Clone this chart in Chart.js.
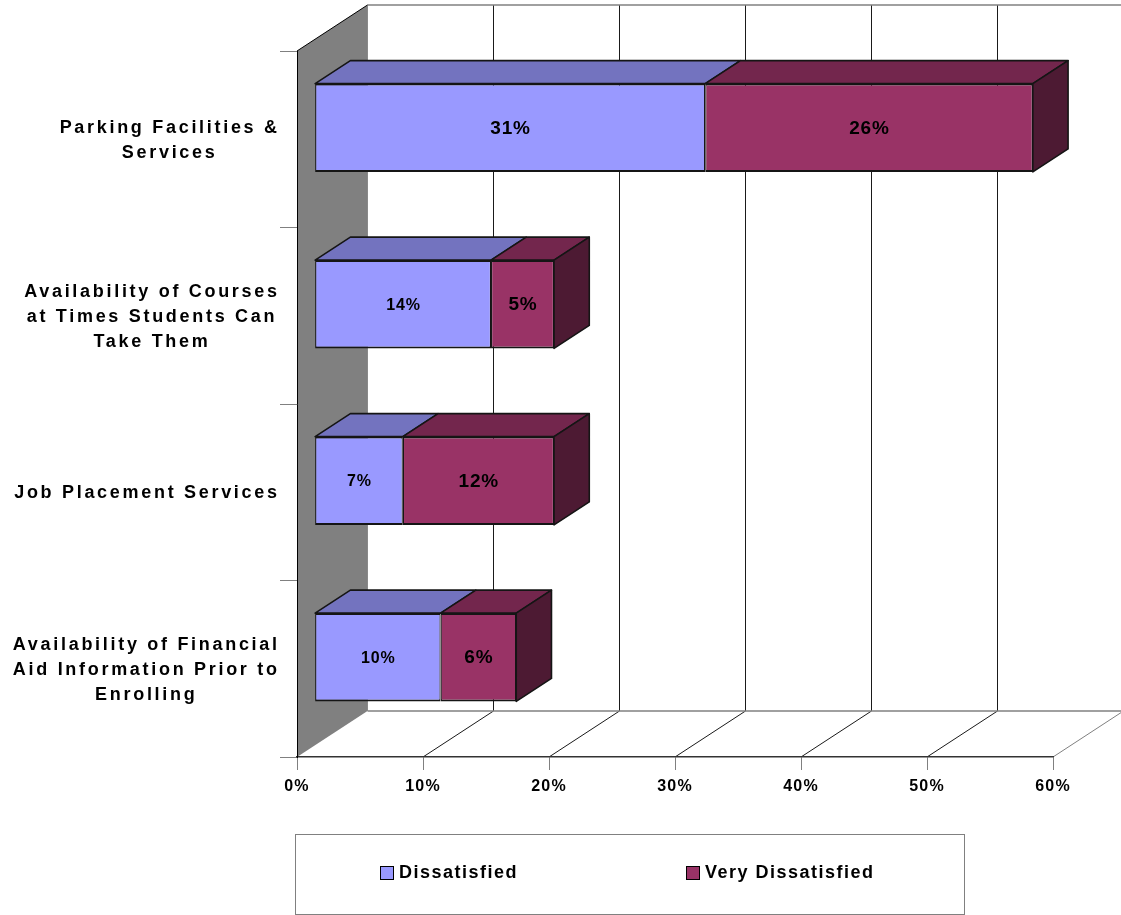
<!DOCTYPE html>
<html><head><meta charset="utf-8">
<script src="https://cdn.jsdelivr.net/npm/chart.js@4.4.1/dist/chart.umd.min.js"></script>
<style>html,body{margin:0;padding:0;background:#fff;overflow:hidden}canvas{display:block}</style>
</head><body>
<canvas id="c" width="1121" height="915"></canvas>
<script>
// ---- data ----
const categories = [
  ['Parking Facilities &', 'Services'],
  ['Availability of Courses', 'at Times Students Can', 'Take Them'],
  ['Job Placement Services'],
  ['Availability of Financial', 'Aid Information Prior to', 'Enrolling']
];
const seriesNames = ['Dissatisfied', 'Very Dissatisfied'];
const dissatisfied = [31, 14, 7, 10];
const veryDissatisfied = [26, 5, 12, 6];
const xTicks = [0, 10, 20, 30, 40, 50, 60];

// ---- style ----
const FONT = '"Liberation Sans", Arial, sans-serif';
const DEPTH = { x: 70.5, y: -46 };
const FRONT = { x: DEPTH.x * 0.25, y: DEPTH.y * 0.25 };
const BAR_DEPTH = { x: DEPTH.x * 0.5, y: DEPTH.y * 0.5 };
const seriesStyle = [
  { front: '#9999FF', top: '#7373BF', side: '#5C5C99' },
  { front: '#993366', top: '#73264D', side: '#4D1A33' }
];
const EDGE = '#151515';

function poly(ctx, pts, fill) {
  ctx.beginPath();
  ctx.moveTo(pts[0][0], pts[0][1]);
  for (let i = 1; i < pts.length; i++) ctx.lineTo(pts[i][0], pts[i][1]);
  ctx.closePath();
  ctx.fillStyle = fill;
  ctx.fill();
  ctx.lineWidth = 1.6;
  ctx.strokeStyle = EDGE;
  ctx.lineJoin = 'round';
  ctx.stroke();
}
function line(ctx, x1, y1, x2, y2, color, w) {
  ctx.beginPath();
  ctx.moveTo(x1, y1); ctx.lineTo(x2, y2);
  ctx.strokeStyle = color; ctx.lineWidth = w || 1;
  ctx.stroke();
}

const threeD = {
  id: 'threeD',
  beforeDraw(chart) {
    const ctx = chart.ctx, ca = chart.chartArea, xs = chart.scales.x;
    ctx.save();
    ctx.fillStyle = '#fff';
    ctx.fillRect(0, 0, chart.width, chart.height);
    const L = ca.left, T = ca.top, B = ca.bottom;
    // left side wall
    ctx.beginPath();
    ctx.moveTo(L, T); ctx.lineTo(L + DEPTH.x, T + DEPTH.y);
    ctx.lineTo(L + DEPTH.x, B + DEPTH.y); ctx.lineTo(L, B); ctx.closePath();
    ctx.fillStyle = '#808080'; ctx.fill();
    // back wall gridlines
    xTicks.forEach(v => {
      if (v === xTicks[0]) return;
      const px = xs.getPixelForValue(v) + DEPTH.x;
      line(ctx, px, T + DEPTH.y, px, B + DEPTH.y, '#1a1a1a', 1);
    });
    // floor diagonals
    xTicks.forEach(v => {
      if (v === xTicks[0]) return;
      const px = xs.getPixelForValue(v);
      line(ctx, px, B, px + DEPTH.x, B + DEPTH.y, v === xTicks[xTicks.length - 1] ? '#808080' : '#1a1a1a', 1);
    });
    // back floor edge
    line(ctx, L + DEPTH.x, B + DEPTH.y, xs.getPixelForValue(xTicks[xTicks.length - 1]) + DEPTH.x, B + DEPTH.y, '#808080', 1.5);
    // back wall top edge and left edge
    line(ctx, L + DEPTH.x, T + DEPTH.y, chart.width, T + DEPTH.y, '#808080', 1.5);
    line(ctx, L + DEPTH.x, T + DEPTH.y, L + DEPTH.x, B + DEPTH.y, '#8a8a8a', 1);
    // left wall top diagonal
    line(ctx, L, T, L + DEPTH.x, T + DEPTH.y, '#000', 1);
    ctx.restore();
    ctx.letterSpacing = '1.2px';
  },
  beforeDatasetsDraw(chart) {
    const ctx = chart.ctx;
    ctx.save();
    ctx.translate(FRONT.x, FRONT.y);
  },
  afterDatasetsDraw(chart) {
    const ctx = chart.ctx;
    ctx.restore();
    ctx.save();
    const n = chart.data.datasets.length;
    const fronts = [];
    chart.data.datasets.forEach((ds, di) => {
      const meta = chart.getDatasetMeta(di);
      meta.data.forEach((el, i) => {
        const p = el.getProps(['x', 'y', 'base', 'height'], true);
        const x0 = Math.min(p.base, p.x) + FRONT.x, x1 = Math.max(p.base, p.x) + FRONT.x;
        const y0 = p.y - p.height / 2 + FRONT.y, y1 = p.y + p.height / 2 + FRONT.y;
        const dx = BAR_DEPTH.x, dy = BAR_DEPTH.y;
        poly(ctx, [[x0, y0], [x1, y0], [x1 + dx, y0 + dy], [x0 + dx, y0 + dy]], seriesStyle[di].top);
        if (di === n - 1) poly(ctx, [[x1, y0], [x1 + dx, y0 + dy], [x1 + dx, y1 + dy], [x1, y1]], seriesStyle[di].side);
        fronts.push({ di, v: ds.data[i], cx: (x0 + x1) / 2, cy: (y0 + y1) / 2 });
      });
    });
    // value labels
    ctx.fillStyle = '#000';
    ctx.textAlign = 'left';
    ctx.textBaseline = 'middle';
    fronts.forEach(f => {
      const small = f.di === 0 && f.v < 20;
      const size = small ? 16 : 19;
      const ls = small ? 0.8 : 0.8;
      ctx.font = 'bold ' + size + 'px ' + FONT;
      ctx.letterSpacing = ls + 'px';
      const t = f.v + '%';
      const w = ctx.measureText(t).width - ls;
      ctx.fillText(t, f.cx - w / 2, f.cy + 1);
    });
    ctx.restore();
  },
  afterDraw(chart) {
    const ctx = chart.ctx, ys = chart.scales.y;
    ctx.save();
    // category labels
    const ls = 2.7, lh = 25;
    ctx.font = 'bold 18px ' + FONT;
    ctx.letterSpacing = ls + 'px';
    ctx.fillStyle = '#000';
    ctx.textAlign = 'left';
    ctx.textBaseline = 'middle';
    categories.forEach((lines, i) => {
      const cy = ys.getPixelForValue(i);
      const widths = lines.map(l => ctx.measureText(l).width - ls);
      const w = Math.max(...widths);
      const cx = ys.right - 20 - w / 2;
      const y0 = cy - (lines.length - 1) * lh / 2;
      lines.forEach((l, j) => ctx.fillText(l, cx - widths[j] / 2, y0 + j * lh + 1));
    });
    // legend
    ctx.letterSpacing = '0px';
    ctx.strokeStyle = '#808080';
    ctx.lineWidth = 1;
    ctx.strokeRect(295.5, 834.5, 669, 80);
    const legendX = [380, 686];
    ctx.font = 'bold 18px ' + FONT;
    ctx.letterSpacing = '1.5px';
    chart.data.datasets.forEach((ds, di) => {
      const x = legendX[di];
      ctx.fillStyle = ds.backgroundColor;
      ctx.fillRect(x, 866, 13, 13);
      ctx.strokeStyle = '#000';
      ctx.lineWidth = 1;
      ctx.strokeRect(x + 0.5, 866.5, 13, 13);
      ctx.fillStyle = '#000';
      ctx.fillText(ds.label, x + 19, 873);
    });
    ctx.restore();
  }
};

new Chart(document.getElementById('c').getContext('2d'), {
  type: 'bar',
  data: {
    labels: categories,
    datasets: [
      { label: seriesNames[0], data: dissatisfied, backgroundColor: seriesStyle[0].front },
      { label: seriesNames[1], data: veryDissatisfied, backgroundColor: seriesStyle[1].front }
    ].map(d => Object.assign(d, {
      borderColor: EDGE,
      borderWidth: { top: 1.8, bottom: 1.8, left: 1.2, right: 1.2 },
      borderSkipped: false,
      categoryPercentage: 0.5,
      barPercentage: 1,
      clip: false
    }))
  },
  options: {
    indexAxis: 'y',
    responsive: false,
    animation: false,
    devicePixelRatio: 1,
    layout: { padding: { left: 0, right: 68, top: 51, bottom: 108 } },
    plugins: { legend: { display: false }, tooltip: { enabled: false } },
    scales: {
      x: {
        stacked: true, min: xTicks[0], max: xTicks[xTicks.length - 1],
        afterBuildTicks(s) { s.ticks = xTicks.map(v => ({ value: v })); },
        ticks: { callback: v => v + '%', color: '#000', font: { family: FONT, size: 16, weight: 'bold' }, padding: 7, maxRotation: 0, autoSkip: false },
        grid: { drawOnChartArea: false, tickLength: 13, tickColor: '#808080', tickWidth: 1 },
        border: { display: true, color: '#333', width: 1.5 },
        afterFit(s) { s.height = 50; }
      },
      y: {
        stacked: true,
        ticks: { display: false },
        grid: { drawOnChartArea: false, tickLength: 17, tickColor: '#808080', offset: true },
        border: { display: true, color: '#000', width: 1 },
        afterFit(s) { s.width = 297; }
      }
    }
  },
  plugins: [threeD]
});
</script>
</body></html>
